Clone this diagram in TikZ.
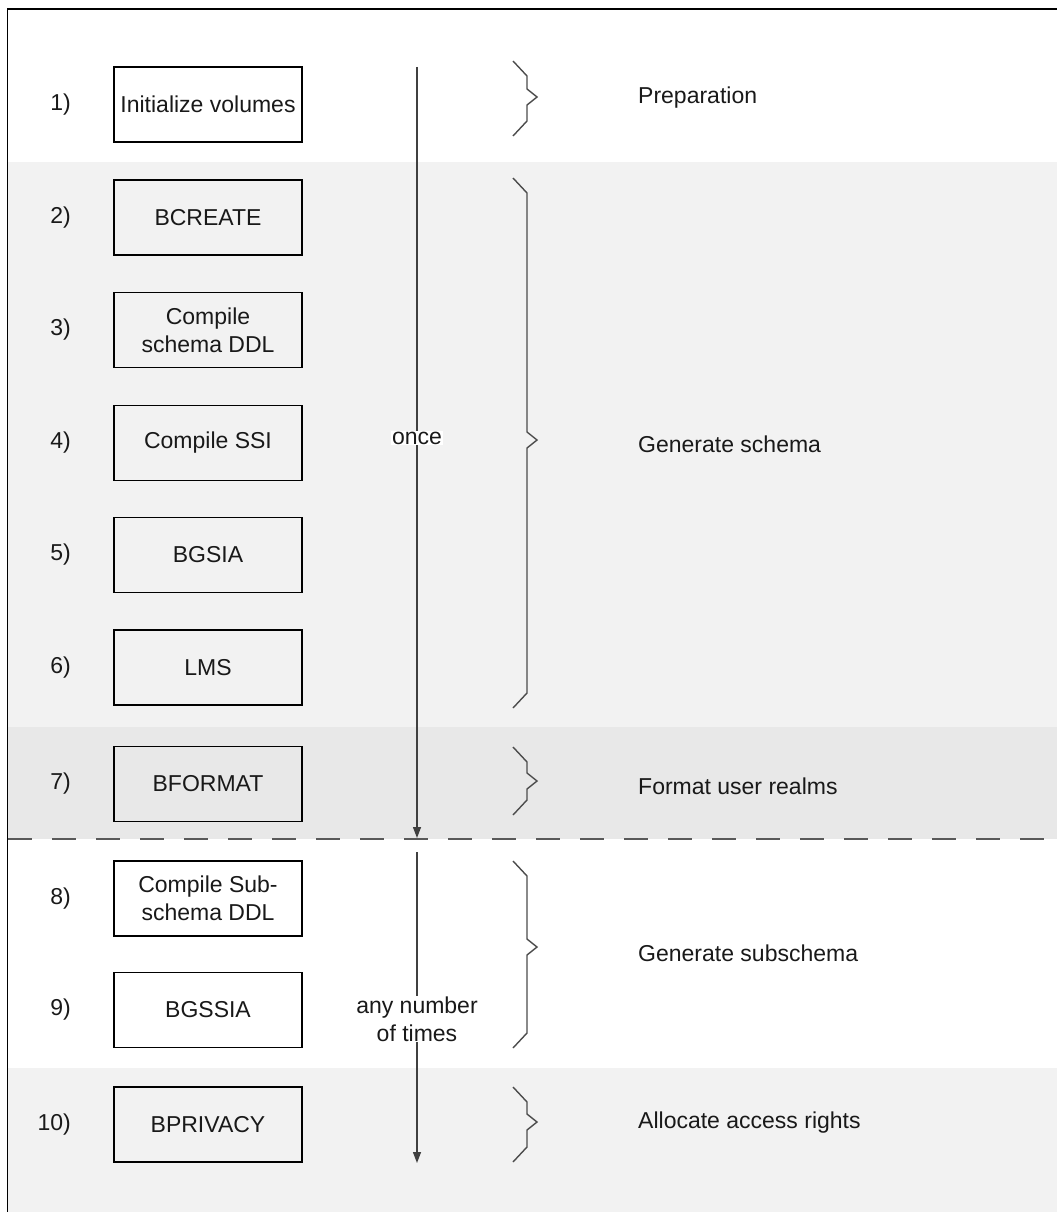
\documentclass[tikz,border=0pt]{standalone}
\usepackage{fontspec}
\setmainfont{Liberation Sans}
\usetikzlibrary{arrows.meta}
\newcommand\diagfont{\fontsize{23}{28}\selectfont}
% brace with a pointed tip: top, bottom, tip height
\newcommand\phasebrace[3]{%
  \draw[bracestyle] (513,#1) -- (527,#1+15) -- (527,#3-8) -- (537,#3)
    -- (527,#3+8) -- (527,#2-15) -- (513,#2);}
\begin{document}
\begin{tikzpicture}[x=1pt,y=-1pt,
  stepbox/.style={draw=black,line width=1.1pt,minimum width=188pt,
    minimum height=75pt,align=center,inner sep=0pt,font=\diagfont,text=black!90},
  numlabel/.style={anchor=east,inner sep=0pt,font=\diagfont,text=black!90},
  phaselabel/.style={anchor=west,inner sep=0pt,font=\diagfont,text=black!90},
  bracestyle/.style={draw=black!70,line width=1.4pt,line join=miter},
  flow/.style={draw=black!75,line width=1.3pt,-{Triangle[length=11pt,width=8pt]}},
  flowlabel/.style={fill=white,inner sep=1pt,align=center,font=\diagfont,text=black!90},
  separator/.style={draw=black!65,line width=1.5pt,dash pattern=on 24pt off 20pt},
  frame/.style={draw=black,line width=1.5pt}]
\useasboundingbox (0,0) rectangle (1057,1212);

% shaded bands behind the steps
\fill[black!5] (8,162) rectangle (1057,727);
\fill[black!9] (8,727) rectangle (1057,839);
\fill[black!5] (8,1068) rectangle (1057,1212);

% outer frame
\draw[frame] (7.5,1212) -- (7.5,9) -- (1057,9);

% steps
\node[stepbox] (s1) at (208,104.5) {Initialize volumes};
\node[stepbox] (s2) at (208,217.5) {BCREATE};
\node[stepbox] (s3) at (208,330) {Compile\\schema DDL};
\node[stepbox] (s4) at (208,443) {Compile SSI};
\node[stepbox] (s5) at (208,555) {BGSIA};
\node[stepbox] (s6) at (208,667.5) {LMS};
\node[stepbox] (s7) at (208,784) {BFORMAT};
\node[stepbox] (s8) at (208,898.5) {Compile Sub-\\schema DDL};
\node[stepbox] (s9) at (208,1010) {BGSSIA};
\node[stepbox] (s10) at (208,1124.5) {BPRIVACY};

% step numbers
\node[numlabel] (n1) at (71,104.5) {1)};
\node[numlabel] (n2) at (71,217.5) {2)};
\node[numlabel] (n3) at (71,330) {3)};
\node[numlabel] (n4) at (71,443) {4)};
\node[numlabel] (n5) at (71,555) {5)};
\node[numlabel] (n6) at (71,667.5) {6)};
\node[numlabel] (n7) at (71,784) {7)};
\node[numlabel] (n8) at (71,898.5) {8)};
\node[numlabel] (n9) at (71,1010) {9)};
\node[numlabel] (n10) at (71,1124.5) {10)};

% separator between one-off and repeatable steps
\coordinate (sepL) at (8,839);
\coordinate (sepR) at (1057,839);
\draw[separator] (sepL) -- (sepR);

% flow arrows
\coordinate (a1top) at (417,67);
\coordinate (a1end) at (417,838);
\draw[flow] (a1top) -- (a1end);
\node[flowlabel] (once) at (417,438) {once};

\coordinate (a2top) at (417,852);
\coordinate (a2end) at (417,1163);
\draw[flow] (a2top) -- (a2end);
\node[flowlabel] (repeat) at (417,1019) {any number\\of times};

% phase braces
\phasebrace{61}{136}{97}
\phasebrace{178}{708}{440}
\phasebrace{747}{815}{781}
\phasebrace{861}{1048}{947}
\phasebrace{1087}{1162}{1122}

% phase names
\node[phaselabel] (p1) at (638,98) {Preparation};
\node[phaselabel] (p2) at (638,444) {Generate schema};
\node[phaselabel] (p3) at (638,786) {Format user realms};
\node[phaselabel] (p4) at (638,953) {Generate subschema};
\node[phaselabel] (p5) at (638,1123) {Allocate access rights};
\end{tikzpicture}
\end{document}
